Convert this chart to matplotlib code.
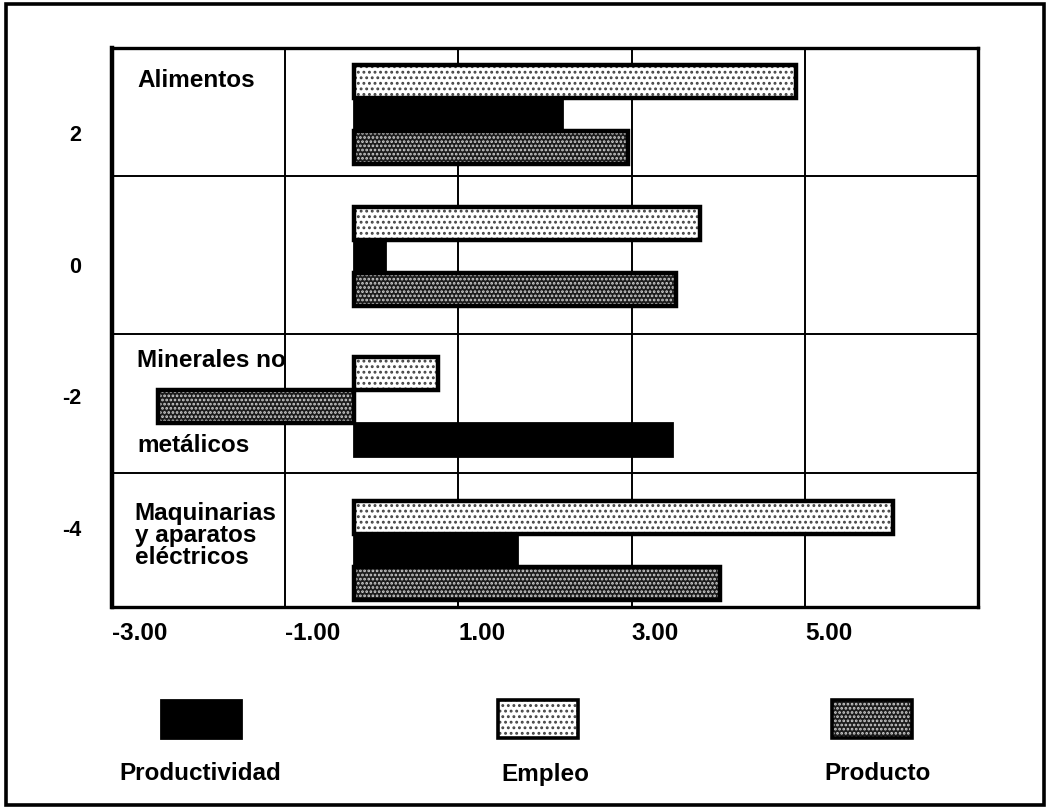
import matplotlib
matplotlib.use("Agg")
import matplotlib.pyplot as plt
from matplotlib.patches import Rectangle

# --- data (bar ends on the printed x axis) ---
categories = ["Alimentos", "", "Minerales no metálicos", "Maquinarias y aparatos eléctricos"]
y_ticks = [2, 0, -2, -4]
x_ticks = [-3, -1, 1, 3, 5]
x_tick_labels = ["-3.00", "-1.00", "1.00", "3.00", "5.00"]

productividad = [2.20, 0.15, 3.47, 1.68]
empleo = [4.90, 3.79, 0.77, 6.02]
producto = [2.96, 3.51, -2.47, 4.02]

# the bars of the scan all start slightly left of zero
bar_base = -0.2

# row order of the three bars inside each group (top to bottom)
row_order = [
    ["Empleo", "Productividad", "Producto"],
    ["Empleo", "Productividad", "Producto"],
    ["Empleo", "Producto", "Productividad"],
    ["Empleo", "Productividad", "Producto"],
]
group_y = [2.28, 0.12, -2.15, -4.34]
group_sep = [1.35, -1.05, -3.17]

series = {"Productividad": productividad, "Empleo": empleo, "Producto": producto}
legend_order = ["Productividad", "Empleo", "Producto"]

plt.rcParams["font.family"] = ["Liberation Sans", "DejaVu Sans"]
plt.rcParams["font.weight"] = "bold"
plt.rcParams["hatch.linewidth"] = 1.3

BAR_H = 0.5
EDGE_LW = 2.0
FS = 17.5


def styled_rect(add, kind, lw_outline):
    """Add the fill and outline layers for one series style via `add`."""
    if kind == "Productividad":
        add(dict(color="black", edgecolor="black", linewidth=EDGE_LW))
    elif kind == "Empleo":
        add(dict(color="white", edgecolor="#444444", hatch="...", linewidth=0))
        add(dict(color="none", edgecolor="black", linewidth=lw_outline))
    else:
        add(dict(color="#1c1c1c", edgecolor="#d0d0d0", hatch="....", linewidth=0))
        add(dict(color="none", edgecolor="black", linewidth=lw_outline))


fig = plt.figure(figsize=(10.49, 8.09), dpi=100)
ax = fig.add_axes([112 / 1049, 1 - 607 / 809, (978 - 112) / 1049, (607 - 48) / 809])

for gi, gy in enumerate(group_y):
    for ri, kind in enumerate(row_order[gi]):
        y = gy + BAR_H * (1 - ri)
        end = series[kind][gi]
        left, width = min(bar_base, end), abs(end - bar_base)
        styled_rect(lambda kw: ax.barh(y, width, left=left, height=BAR_H, zorder=3, **kw),
                    kind, EDGE_LW * 1.6)

ax.set_xlim(-3.0, 7.0)
ax.set_ylim(-5.2, 3.29)

for xv in [-1, 1, 3, 5]:
    ax.axvline(xv, color="black", linewidth=1.4, zorder=1)
for yv in group_sep:
    ax.axhline(yv, color="black", linewidth=1.4, zorder=1)

for s in ax.spines.values():
    s.set_linewidth(2.4)
ax.spines["left"].set_linewidth(3.2)

ax.set_xticks(x_ticks, labels=x_tick_labels)
for lab in ax.get_xticklabels():
    lab.set_horizontalalignment("left")
ax.set_yticks(y_ticks, labels=[str(v) for v in y_ticks])
ax.tick_params(axis="both", length=0)
ax.tick_params(axis="x", pad=11, labelsize=FS)
ax.tick_params(axis="y", pad=22, labelsize=15.5)

# category labels inside the plot
lbl_kw = dict(fontsize=FS, fontweight="bold", ha="left", va="center",
              transform=ax.get_yaxis_transform(), zorder=5)
ax.text(0.029, group_y[0] + 0.52, categories[0], **lbl_kw)
first, second = categories[2].rsplit(" ", 1)
ax.text(0.029, group_y[2] + 0.69, first, **lbl_kw)
ax.text(0.029, group_y[2] - 0.60, second, **lbl_kw)
ax.text(0.026, group_y[3] + 0.22, "Maquinarias\ny aparatos\neléctricos",
        linespacing=0.95, **lbl_kw)

# legend below the plot: swatch above its label
legend_x = [201 / 1049, 538 / 1049, 872 / 1049]
label_x = [200 / 1049, 545 / 1049, 878 / 1049]
sw_w, sw_h = 80 / 1049, 38 / 809
sw_y = 1 - 738 / 809
for lx, tx, kind in zip(legend_x, label_x, legend_order):
    styled_rect(lambda kw: fig.patches.append(
        Rectangle((lx - sw_w / 2, sw_y), sw_w, sw_h, transform=fig.transFigure,
                  facecolor=kw.pop("color"), **kw)), kind, 2.6)
    fig.text(tx, 1 - 774 / 809, kind, ha="center", va="center", fontsize=FS, fontweight="bold")

# outer frame of the figure
fig.patches.append(Rectangle((6 / 1049, 4 / 809), 1038 / 1049, 801 / 809, transform=fig.transFigure,
                             facecolor="none", edgecolor="black", linewidth=2.6))

fig.savefig("out.png", dpi=100)
